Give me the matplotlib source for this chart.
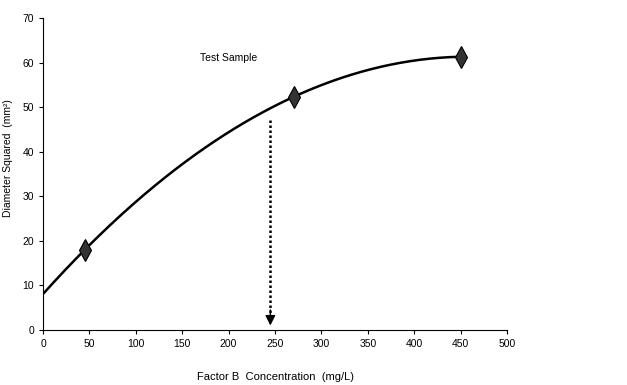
import numpy as np
import matplotlib.pyplot as plt

# data
conc = np.array([45, 270, 450])
diam_sq = np.array([18.0, 52.3, 61.3])
sample_conc = 245
sample_top = 47.0
sample_bottom = 1.0
x_ticks = np.arange(0, 501, 50)
y_ticks = np.arange(0, 71, 10)

plt.rcParams['font.family'] = ['Liberation Sans', 'DejaVu Sans']

fig = plt.figure(figsize=(6.27, 3.85), dpi=100)
ax = fig.add_axes([0.0686, 0.1429, 0.740, 0.8104])

# second order trend line through the points
coef = np.polyfit(conc, diam_sq, 2)
xs = np.linspace(0, conc.max(), 300)
ax.plot(xs, np.polyval(coef, xs), color='black', lw=1.8, zorder=2)
ax.plot(conc, diam_sq, linestyle='none', marker='d', ms=11, mfc='#333333',
        mec='black', mew=0.8, zorder=3)

# dotted shaft plus a solid head
ax.plot([sample_conc, sample_conc], [sample_top, sample_bottom + 2.5], color='black',
        lw=1.8, linestyle=(0, (1, 1)))
ax.annotate('', xy=(sample_conc, sample_bottom), xytext=(sample_conc, sample_bottom + 3.5),
            arrowprops=dict(arrowstyle='-|>', lw=1, color='black',
                            mutation_scale=15, shrinkA=0, shrinkB=0))
ax.text(200, 61, 'Test Sample', ha='center', va='center', fontsize=7.5)

ax.set_xlim(0, 500)
ax.set_ylim(0, 70)
ax.set_xticks(x_ticks)
ax.set_yticks(y_ticks)
ax.tick_params(direction='out', length=3, width=0.8, labelsize=7.5)
ax.spines['top'].set_visible(False)
ax.spines['right'].set_visible(False)
ax.set_xlabel('Factor B  Concentration  (mg/L)', fontsize=8)
ax.xaxis.set_label_coords(0.5, -0.135)
ax.set_ylabel('Diameter Squared  (mm²)', fontsize=7.5)
ax.yaxis.set_label_coords(-0.065, 0.55)

fig.savefig('out.png', dpi=100)
